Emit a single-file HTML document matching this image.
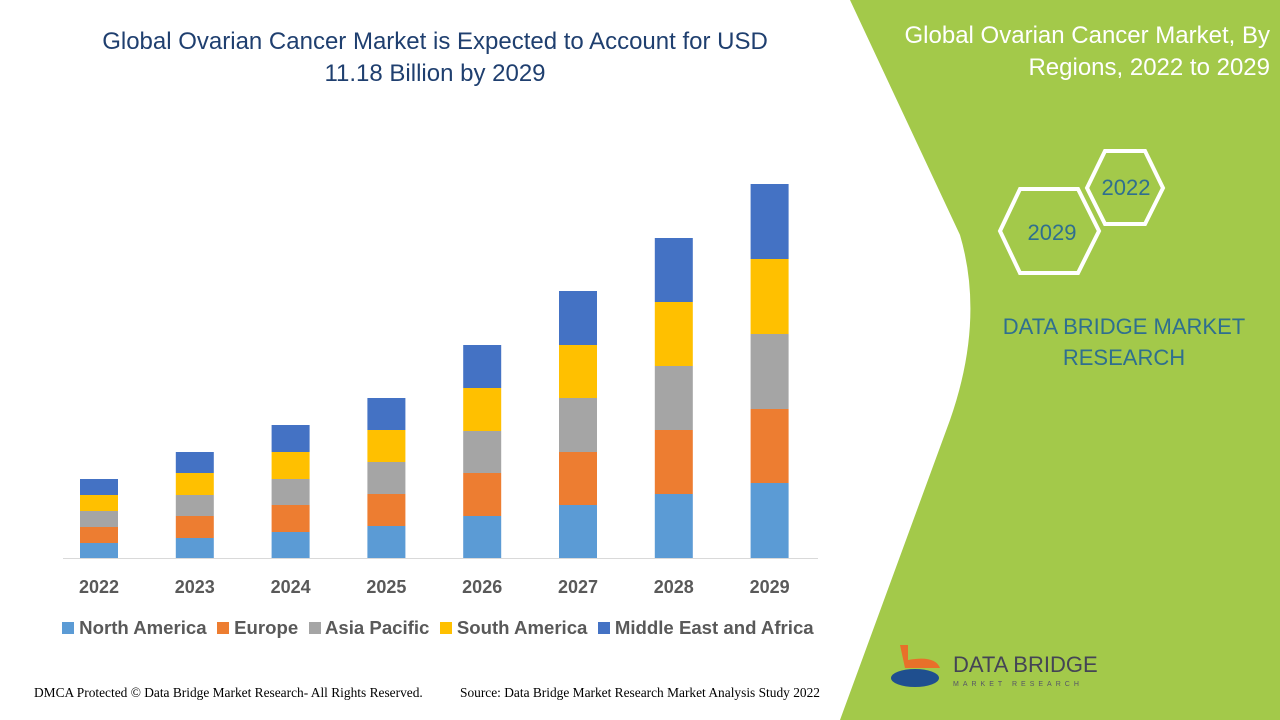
<!DOCTYPE html>
<html><head><meta charset="utf-8"><style>
body{margin:0;width:1280px;height:720px;overflow:hidden;background:#fff;font-family:"Liberation Sans",sans-serif;position:relative}
.t{position:absolute;white-space:nowrap}
</style></head><body>
<svg width="1280" height="720" style="position:absolute;left:0;top:0">
<path d="M850,0 L1280,0 L1280,720 L840,720 L950,420 Q985,320 960,235 Z" fill="#a3c94a"/>
<text x="1270" y="43" text-anchor="end" font-size="24" fill="#fff" font-family="Liberation Sans">Global Ovarian Cancer Market, By</text>
<text x="1270" y="75" text-anchor="end" font-size="24" fill="#fff" font-family="Liberation Sans">Regions, 2022 to 2029</text>
<polygon points="1105,151 1145,151 1163,188 1145,224 1105,224 1087,188" fill="none" stroke="#fff" stroke-width="4"/>
<text x="1126" y="195" text-anchor="middle" font-size="22" fill="#2f6f8f">2022</text>
<polygon points="1020,189 1078,189 1099,231 1078,273 1020,273 1000,231" fill="none" stroke="#fff" stroke-width="4"/>
<text x="1052" y="240" text-anchor="middle" font-size="22" fill="#2f6f8f">2029</text>
<text x="1124" y="334" text-anchor="middle" font-size="22" fill="#2f6f8f">DATA BRIDGE MARKET</text>
<text x="1124" y="365" text-anchor="middle" font-size="22" fill="#2f6f8f">RESEARCH</text>
<path d="M900,645 L908,645 L908,660 Q935,655 940,668 L905,668 Z" fill="#e8702a"/>
<ellipse cx="915" cy="678" rx="24" ry="9" fill="#1f4f8f"/>
<text x="953" y="672" font-size="22" fill="#445">DATA BRIDGE</text>
<text x="953" y="686" font-size="7" fill="#556" letter-spacing="4">MARKET RESEARCH</text>
<line x1="63" y1="558.5" x2="818" y2="558.5" stroke="#d9d9d9"/>
<g id="bars"></g>
</svg>
<div class="t" style="left:0;width:870px;text-align:center;top:26px;font-size:24px;color:#1f3f6f;line-height:32px">Global Ovarian Cancer Market is Expected to Account for USD<br>11.18 Billion by 2029</div>
<div class="t" style="left:34px;top:685px;font-size:13.4px;font-family:'Liberation Serif',serif">DMCA Protected © Data Bridge Market Research- All Rights Reserved.</div>
<div class="t" style="left:460px;top:685px;font-size:13.4px;font-family:'Liberation Serif',serif">Source: Data Bridge Market Research Market Analysis Study 2022</div>
<div class="t" style="left:62px;top:617px;font-size:18.6px;font-weight:bold;color:#595959">
<span style="display:inline-block;width:12px;height:12px;background:#5b9bd5"></span> North America &nbsp;<span style="display:inline-block;width:12px;height:12px;background:#ed7d31"></span> Europe &nbsp;<span style="display:inline-block;width:12px;height:12px;background:#a5a5a5"></span> Asia Pacific &nbsp;<span style="display:inline-block;width:12px;height:12px;background:#ffc000"></span> South America &nbsp;<span style="display:inline-block;width:12px;height:12px;background:#4472c4"></span> Middle East and Africa</div>
<script>
var d=[[479,543,527,511,495],[452,538,516,495,473],[425,532,505,479,452],[398,526,494,462,430],[345,516,473,431,388],[291,505,452,398,345],[238,494,430,366,302],[184,483,409,334,259]];
var c=["#5b9bd5","#ed7d31","#a5a5a5","#ffc000","#4472c4"],s="";
d.forEach(function(b,i){var x=80+i*95.8,prev=558,ys=[b[1],b[2],b[3],b[4],b[0]];
ys.forEach(function(y,k){s+='<rect x="'+x+'" y="'+y+'" width="38" height="'+(prev-y)+'" fill="'+c[k]+'"/>';prev=y;});
s+='<text x="'+(x+19)+'" y="593" text-anchor="middle" font-size="18" font-weight="bold" fill="#595959" font-family="Liberation Sans">'+(2022+i)+'</text>';});
document.getElementById("bars").innerHTML=s;
</script>
</body></html>
